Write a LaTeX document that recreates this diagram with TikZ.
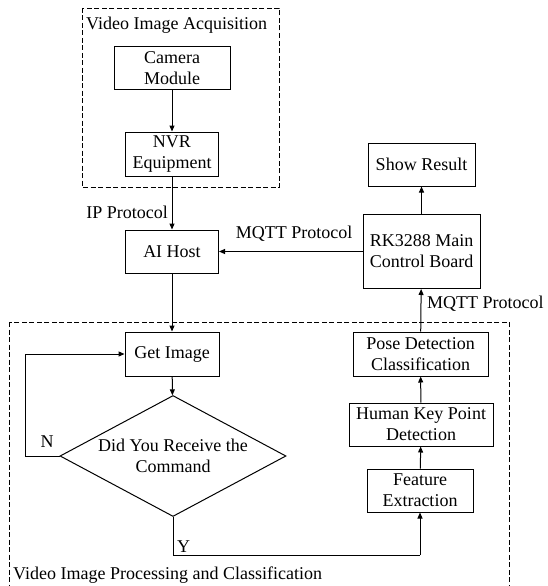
\documentclass[tikz,border=0pt]{standalone}
\usepackage{fontspec}
\setmainfont{Liberation Serif}
\usetikzlibrary{arrows.meta,shapes.geometric}
\begin{document}
\begin{tikzpicture}[x=1pt,y=-1pt,
  font=\fontsize{18}{21}\selectfont,
  box/.style={draw,line width=1pt,inner sep=0pt,align=center},
  arr/.style={line width=1pt,-{Triangle[length=6pt,width=5pt]}},
  ln/.style={line width=1pt},
  grp/.style={draw,dash pattern=on 5pt off 2.5pt,line width=0.9pt},
  lbl/.style={inner sep=0pt}]
\useasboundingbox (0,0) rectangle (547,586);
\draw[grp] (82,8) rectangle (279,187);
\draw[grp] (9,322) rectangle (509,592);
\node[lbl,anchor=west] (t1) at (86,25) {Video Image Acquisition};
\node[lbl,anchor=west] (t2) at (13,575) {Video Image Processing and Classification};

\node[box,minimum width=116,minimum height=42] (cam) at (172,68) {Camera\\Module};
\node[box,minimum width=93,minimum height=44] (nvr) at (172,154) {NVR\\Equipment};
\node[box,minimum width=93,minimum height=43] (ai) at (172,251.5) {AI Host};
\node[box,minimum width=107,minimum height=43] (show) at (421.5,164.5) {Show Result};
\node[box,minimum width=117,minimum height=74] (rk) at (421.5,251.5) {RK3288 Main\\Control Board};
\node[box,minimum width=94,minimum height=44] (get) at (172,354) {Get Image};
\node[box,minimum width=135,minimum height=44] (pose) at (420.5,354) {Pose Detection\\Classification};
\node[box,minimum width=144,minimum height=43] (human) at (421,424.5) {Human Key Point\\Detection};
\node[box,minimum width=106,minimum height=43] (feat) at (420,490.5) {Feature\\Extraction};
\node[draw,line width=1pt,diamond,aspect=1.87,minimum width=226,minimum height=121,inner sep=0pt,align=center] (dec) at (173,456) {Did You Receive the\\Command};

\coordinate (nl) at (25,456);
\coordinate (nu) at (25,354);
\coordinate (yd) at (173,555);
\coordinate (yr) at (420,555);

\draw[arr] (cam) -- (nvr);
\draw[arr] (nvr) -- (ai);
\node[lbl,anchor=east] (ip) at (168,212) {IP Protocol};
\draw[arr] (rk) -- (ai);
\node[lbl] (mq1) at (294,234) {MQTT Protocol};
\draw[arr] (rk) -- (show);
\draw[arr] (ai) -- (get);
\draw[arr] (get) -- (dec);
\draw[ln] (dec.west) -- (nl) -- (nu);
\draw[arr] (nu) -- (get.west);
\node[lbl] (n) at (47,442) {N};
\draw[ln] (dec.south) -- (yd) -- (yr);
\draw[arr] (yr) -- (feat.south);
\node[lbl,anchor=south west] (y) at (177,553) {Y};
\draw[arr] (feat) -- (human);
\draw[arr] (human) -- (pose);
\draw[arr] (pose) -- (rk);
\node[lbl,anchor=west] (mq2) at (427,304) {MQTT Protocol};
\end{tikzpicture}
\end{document}
